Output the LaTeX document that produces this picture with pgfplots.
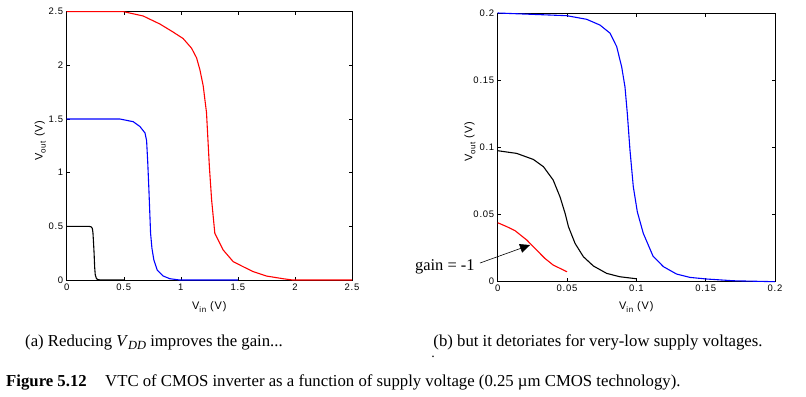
\documentclass[border=0pt]{standalone}
\usepackage{fontspec}
\setmainfont{Liberation Serif}
\setsansfont{Liberation Sans}
\newfontfamily\axisfont{Liberation Sans}[LetterSpace=8]
\usepackage{pgfplots}
\pgfplotsset{compat=1.18}
\usetikzlibrary{arrows.meta}

\pgfplotsset{matlab/.style={
  scale only axis,
  axis line style={line width=0.7pt},
  tick align=inside, tick pos=both, major tick length=3.5bp,
  tick style={line width=0.5pt, black},
  scaled ticks=false,
  /pgf/number format/assume math mode=true,
  tick label style={font=\fontsize{9.5}{10}\selectfont\axisfont},
  label style={font=\fontsize{11}{12}\selectfont\axisfont},
  every axis plot/.append style={line width=1.1pt, no markers},
  clip=false,
}}

\newcommand{\sub}[1]{\raisebox{-0.5ex}{\fontsize{8}{8}\selectfont #1}}

\begin{document}
\begin{tikzpicture}
\path[use as bounding box] (0,0) rectangle (806bp,-397bp);

% ---------- (a) ----------
\begin{axis}[matlab,
  at={(66.7bp,-280bp)}, anchor=south west,
  width=285.3bp, height=268.3bp,
  xmin=0, xmax=2.5, ymin=0, ymax=2.5,
  xtick={0,0.5,1,1.5,2,2.5}, ytick={0,0.5,1,1.5,2,2.5},
  xticklabels={0,0.5,1,1.5,2,2.5}, yticklabels={0,0.5,1,1.5,2,2.5},
  xlabel={V\sub{in} (V)}, ylabel={V\sub{out} (V)},
  xlabel style={at={(axis description cs:0.5,-0.1)}, anchor=center},
  ylabel style={at={(axis description cs:-0.093,0.52)}, anchor=center, rotate=0},
]
\addplot[black] coordinates {
(0,0.5) (0.15,0.5) (0.2,0.499) (0.215,0.495) (0.225,0.48) (0.23,0.44)
(0.235,0.35) (0.24,0.25) (0.245,0.12) (0.25,0.05) (0.26,0.015) (0.27,0.005)
(0.29,0.001) (0.5,0)};
\addplot[blue] coordinates {
(0,1.5) (0.467,1.5) (0.583,1.475) (0.642,1.43) (0.686,1.37) (0.70,1.30)
(0.71,1.10) (0.72,0.85) (0.735,0.435) (0.747,0.295) (0.764,0.186)
(0.793,0.093) (0.846,0.037) (0.904,0.012) (0.99,0.0) (1.5,0)};
\addplot[red] coordinates {
(0,2.5) (0.5,2.5) (0.67,2.46) (0.817,2.385) (0.933,2.31) (1.02,2.25)
(1.094,2.16) (1.138,2.07) (1.167,1.96) (1.196,1.81) (1.225,1.56)
(1.25,1.06) (1.27,0.745) (1.298,0.435) (1.327,0.373) (1.371,0.28)
(1.459,0.171) (1.546,0.124) (1.634,0.078) (1.75,0.037) (1.896,0.012)
(1.98,0) (2.5,0)};
\end{axis}

% ---------- (b) ----------
\begin{axis}[matlab,
  at={(497.7bp,-281.7bp)}, anchor=south west,
  width=277.3bp, height=268.7bp,
  xmin=0, xmax=0.2, ymin=0, ymax=0.2,
  xtick={0,0.05,0.1,0.15,0.2}, ytick={0,0.05,0.1,0.15,0.2},
  xticklabels={0,0.05,0.1,0.15,0.2}, yticklabels={0,0.05,0.1,0.15,0.2},
  xlabel={V\sub{in} (V)}, ylabel={V\sub{out} (V)},
  xlabel style={at={(axis description cs:0.5,-0.095)}, anchor=center},
  ylabel style={at={(axis description cs:-0.1,0.52)}, anchor=center, rotate=0},
]
\addplot[blue] coordinates {
(0,0.2) (0.0498,0.198) (0.0642,0.1953) (0.0738,0.191) (0.081,0.185)
(0.0858,0.175) (0.0894,0.160) (0.0918,0.145) (0.0935,0.125) (0.0954,0.098)
(0.0978,0.0707) (0.1007,0.052) (0.105,0.036) (0.112,0.0191) (0.1195,0.0112)
(0.129,0.0057) (0.1387,0.0032) (0.1507,0.002) (0.17,0.0007) (0.2,0)};
\addplot[black] coordinates {
(0,0.0975) (0.0137,0.0955) (0.0257,0.091) (0.033,0.0856) (0.040,0.0757)
(0.045,0.063) (0.0486,0.0509) (0.051,0.041) (0.0558,0.0285) (0.0618,0.0186)
(0.069,0.0117) (0.0786,0.0062) (0.088,0.0037) (0.1,0.0022)};
\addplot[red] coordinates {
(0,0.0439) (0.0065,0.041) (0.0125,0.038) (0.021,0.031) (0.028,0.0236)
(0.034,0.0174) (0.040,0.0124) (0.05,0.0074)};
\draw[line width=0.6pt, -{Triangle[length=10bp,width=9bp]}]
  (axis cs:-0.0128,0.0139) -- (axis cs:0.0233,0.0273);
\node[anchor=east, inner sep=0pt, font=\fontsize{16.5}{18}\selectfont]
  at (axis cs:-0.0165,0.011) {gain = -1};
\end{axis}

% ---------- captions ----------
\node[font=\fontsize{16.8}{18}\selectfont] at (154bp,-342bp)
  {(a) Reducing \textit{V}\raisebox{-0.4ex}{\fontsize{12.5}{13}\selectfont\textit{DD}} improves the gain...};
\node[font=\fontsize{16.8}{18}\selectfont] at (598bp,-342bp)
  {(b) but it detoriates for very-low supply voltages.};
\node[font=\fontsize{14}{18}\selectfont] at (433bp,-357bp) {.};
\node[anchor=west, font=\fontsize{16.8}{18}\selectfont, inner sep=0pt] at (6bp,-382bp)
  {\textbf{Figure 5.12}\hspace{1.1em}VTC of CMOS inverter as a function of supply voltage (0.25 µm CMOS technology).};
\end{tikzpicture}
\end{document}
